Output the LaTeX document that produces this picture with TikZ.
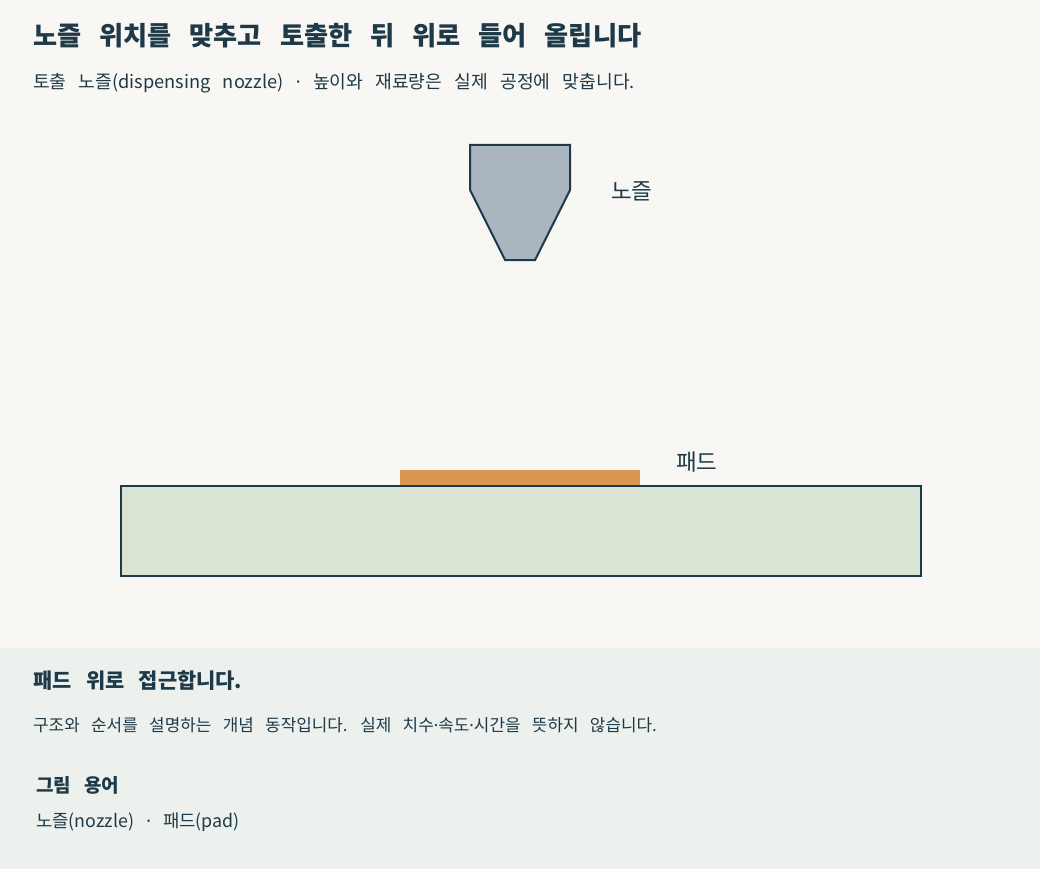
\documentclass[tikz,border=0pt]{standalone}
\usepackage{fontspec}
\setmainfont{Noto Sans CJK KR}[WordSpace=3]
\newfontfamily\latinfont{Noto Sans}
\newcommand{\mdot}{{\latinfont ·}}
\definecolor{ink}{HTML}{1E3A48}
\definecolor{bg}{HTML}{F8F7F4}
\definecolor{panel}{HTML}{EDF1EE}
\definecolor{nozzlefill}{HTML}{ABB5BF}
\definecolor{boardfill}{HTML}{DAE4D4}
\definecolor{padfill}{HTML}{D89752}
\tikzset{
  txt/.style={anchor=base west, inner sep=0pt, text=ink},
  lbl/.style={anchor=base west, inner sep=0pt, text=ink, font=\fontsize{22.5}{26}\selectfont},
  outline/.style={draw=ink, line width=2pt, line join=miter}
}
\begin{document}
\begin{tikzpicture}[x=1pt,y=-1pt]
\fill[bg] (0,0) rectangle (1040,869);
\useasboundingbox (0,0) rectangle (1040,869);
\fill[panel] (0,648) rectangle (1040,869);
% title
\node[txt, font=\fontsize{26.2}{30}\selectfont\bfseries] (title) at (33,46) {노즐 위치를 맞추고 토출한 뒤 위로 들어 올립니다};
\node[txt, font=\fontsize{18.2}{22}\selectfont] (sub) at (33,89) {토출 노즐(dispensing nozzle) \mdot{} 높이와 재료량은 실제 공정에 맞춥니다.};
% nozzle
\draw[outline, fill=nozzlefill] (470,145) -- (570,145) -- (570,190) -- (535,260) -- (505,260) -- (470,190) -- cycle;
\coordinate (nozzletip) at (520,260);
\node[lbl] (nozzlelbl) at (611,199) {노즐};
% board
\node[draw=ink, line width=2pt, fill=boardfill, minimum width=800pt, minimum height=90pt, inner sep=0pt, anchor=north west] (board) at (120,485) {};
\fill[padfill] (400,470) rectangle (640,485);
\node[lbl] (padlbl) at (676,470) {패드};
% bottom panel
\node[txt, font=\fontsize{20.9}{25}\selectfont\bfseries] (step) at (33,688) {패드 위로 접근합니다.};
\node[txt, font=\fontsize{16.9}{20}\selectfont] (desc) at (33,731) {구조와 순서를 설명하는 개념 동작입니다. 실제 치수\mdot{}속도\mdot{}시간을 뜻하지 않습니다.};
\node[txt, font=\fontsize{19}{23}\selectfont\bfseries] (termhead) at (36,792) {그림 용어};
\node[txt, font=\fontsize{17.8}{21}\selectfont] (terms) at (36,827) {노즐(nozzle) \mdot{} 패드(pad)};
\end{tikzpicture}
\end{document}
